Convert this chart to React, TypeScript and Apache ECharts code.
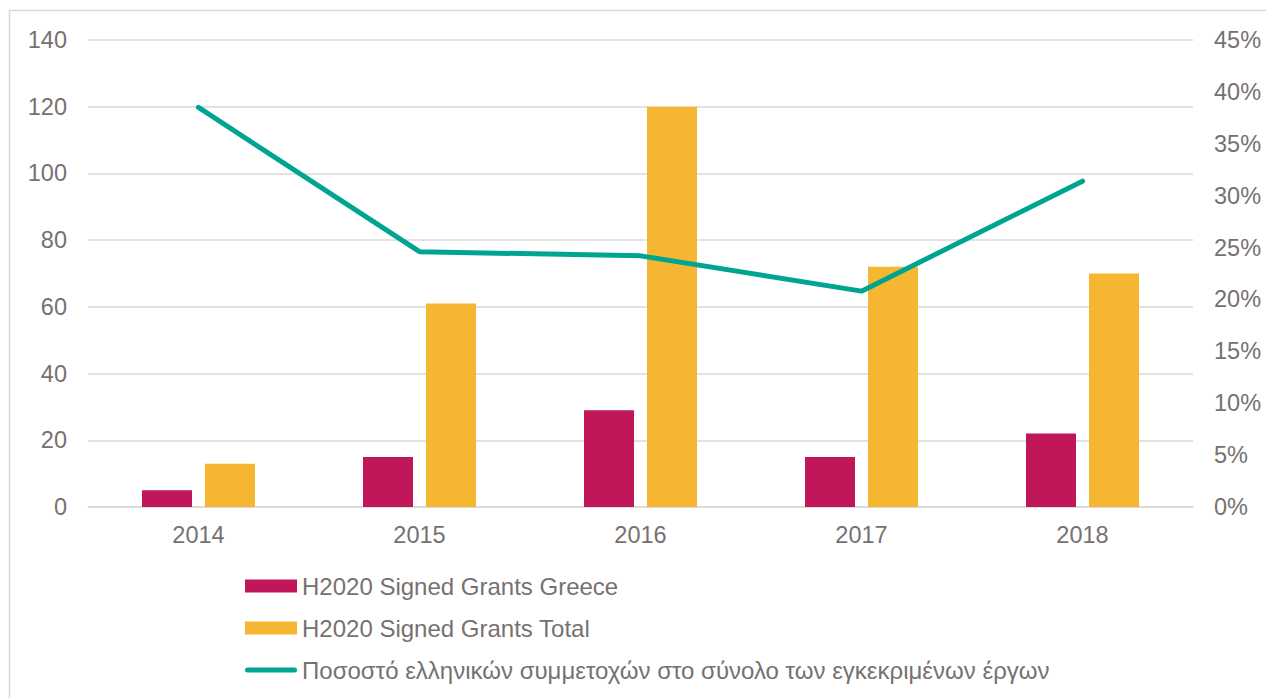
import React, { useEffect, useRef } from "react";
import * as echarts from "echarts";

const categories = ["2014", "2015", "2016", "2017", "2018"];
const greeceGrants = [5, 15, 29, 15, 22];
const totalGrants = [13, 61, 120, 72, 70];
const greekShare = [38.5, 24.6, 24.2, 20.8, 31.4];
const seriesNames = [
  "H2020 Signed Grants Greece",
  "H2020 Signed Grants Total",
  "Ποσοστό ελληνικών συμμετοχών στο σύνολο των εγκεκριμένων έργων",
];

const textColor = "#767171";
const font = "'Liberation Sans', Arial, sans-serif";
const fs = 23.5;

export default function App() {
  const ref = useRef<HTMLDivElement>(null);
  useEffect(() => {
    document.body.style.margin = "0";
    const chart = echarts.init(ref.current!, null, { renderer: "svg" });
    chart.setOption({
      animation: false,
      textStyle: { fontFamily: font, color: textColor },
      graphic: [
        {
          type: "rect",
          shape: { x: 9.5, y: 10.5, width: 1300, height: 800 },
          style: { fill: "none", stroke: "#d9d9d9", lineWidth: 1.5 },
          silent: true,
        },
      ],
      grid: { left: 88, right: 73, top: 40, bottom: 191 },
      legend: {
        orient: "vertical",
        left: 240,
        top: 569,
        height: 125,
        itemWidth: 52,
        itemHeight: 13,
        itemGap: 18,
        textStyle: { fontSize: 24, color: textColor, fontFamily: font },
        data: [
          { name: seriesNames[0], icon: "rect" },
          { name: seriesNames[1], icon: "rect" },
          {
            name: seriesNames[2],
            icon: "path://M2.5,0H49.5A2.5,2.5,0,0,1,49.5,5H2.5A2.5,2.5,0,0,1,2.5,0Z",
            itemStyle: { color: "#00A591" },
          },
        ],
      },
      xAxis: {
        type: "category",
        data: categories,
        axisLine: { show: true, lineStyle: { color: "#d9d9d9", width: 1.5 } },
        axisTick: { show: false },
        axisLabel: { fontSize: fs, color: textColor, margin: 16, fontFamily: font },
      },
      yAxis: [
        {
          type: "value",
          min: 0,
          max: 140,
          interval: 20,
          axisLine: { show: false },
          axisTick: { show: false },
          splitLine: { lineStyle: { color: "#d9d9d9", width: 1.5 } },
          axisLabel: { fontSize: fs, color: textColor, margin: 21, fontFamily: font },
        },
        {
          type: "value",
          min: 0,
          max: 45,
          interval: 5,
          axisLine: { show: false },
          axisTick: { show: false },
          splitLine: { show: false },
          axisLabel: {
            fontSize: fs,
            color: textColor,
            margin: 21,
            fontFamily: font,
            formatter: "{value}%",
          },
        },
      ],
      series: [
        {
          name: seriesNames[0],
          type: "bar",
          data: greeceGrants,
          barWidth: 50,
          barGap: "26%",
          itemStyle: { color: "#C0175A" },
        },
        {
          name: seriesNames[1],
          type: "bar",
          data: totalGrants,
          barWidth: 50,
          itemStyle: { color: "#F5B731" },
        },
        {
          name: seriesNames[2],
          type: "line",
          yAxisIndex: 1,
          data: greekShare,
          symbol: "none",
          lineStyle: { color: "#00A591", width: 5, cap: "round" },
          itemStyle: { color: "#00A591" },
        },
      ],
    });
    return () => chart.dispose();
  }, []);
  return <div ref={ref} style={{ width: 1266, height: 698 }} />;
}
